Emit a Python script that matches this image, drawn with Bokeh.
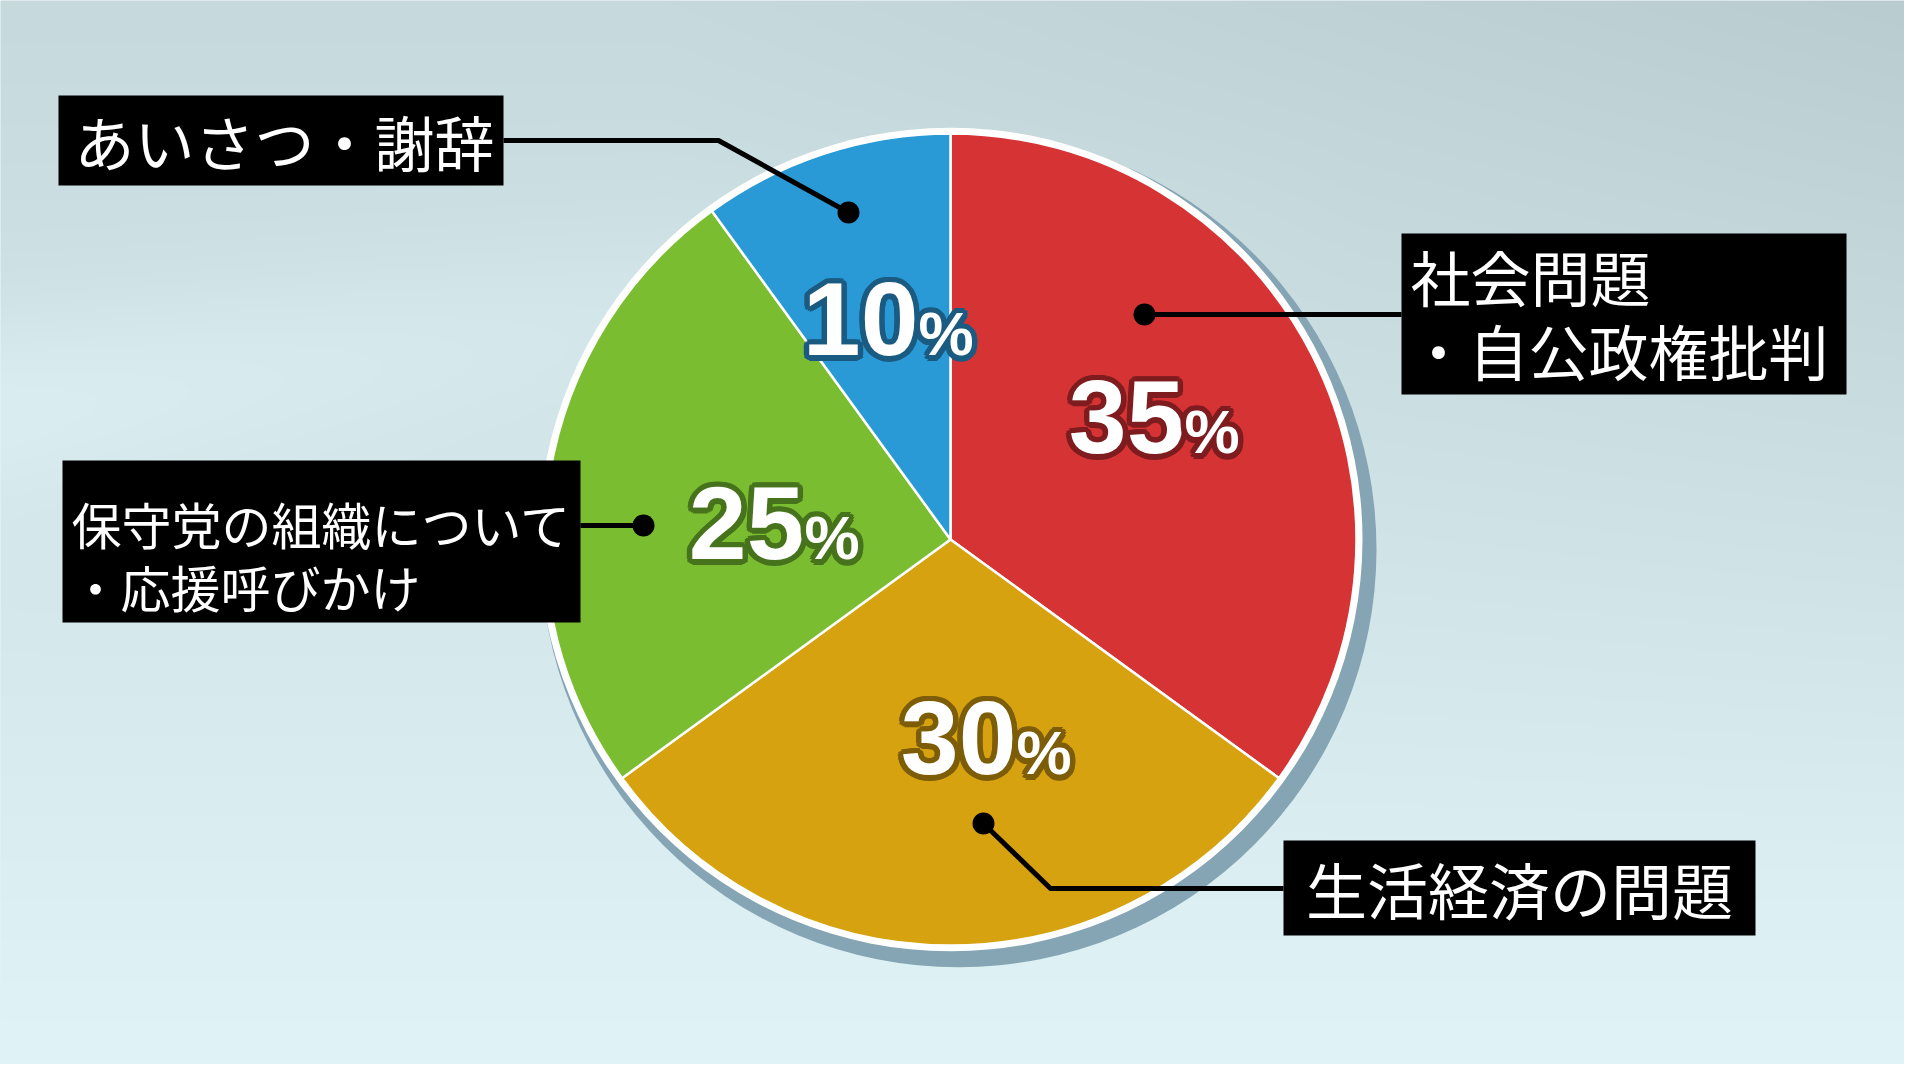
import numpy as np
from bokeh.plotting import figure
from bokeh.models import Range1d
from bokeh.core.properties import value
from bokeh.embed import file_html
from bokeh.resources import INLINE

# ---------------- data ----------------
categories = ["社会問題・自公政権批判", "生活経済の問題", "保守党の組織について・応援呼びかけ", "あいさつ・謝辞"]
label_lines = [["社会問題", "・自公政権批判"], ["生活経済の問題"],
               ["保守党の組織について", "・応援呼びかけ"], ["あいさつ・謝辞"]]
values = [35, 30, 25, 10]
pct_text = [str(v) for v in values]
slice_colors = ["#d63334", "#d6a20f", "#7bbd31", "#2a9ad7"]
outline_colors = ["#7e1c1f", "#7d5d08", "#46731c", "#1b5b82"]

# ---------------- layout (screen px of the 1920x1080 page) ----------------
W, H = 1904, 1064
def Y(sy):
    return 1080 - sy

CX, CY, R = 958, 547, 406
BORDER = 6

# callouts per slice: polyline path (starts at dot), box (l, r, t, b), text line anchors
callouts = [
    dict(path=[(1152, 322), (1409, 322)], box=(1409, 1854, 241, 402),
         text=[(1418, 283), (1416, 357)], size=60, align="left"),
    dict(path=[(991, 831), (1058, 896), (1291, 896)], box=(1291, 1763, 848, 943),
         text=[(1527, 896)], size=61, align="center"),
    dict(path=[(651, 533), (588, 533)], box=(70, 588, 468, 630),
         text=[(79, 530), (78, 593)], size=50, align="left"),
    dict(path=[(856, 220), (726, 148), (511, 148)], box=(66, 511, 103, 193),
         text=[(82, 148)], size=60, align="left"),
]
# percent labels: x where digits end, baseline y
pct_pos = [(1192, 461), (1024, 782), (812, 567), (926, 363)]
DIGIT_SIZE, PCT_SIZE = 104, 62

# ---------------- figure ----------------
p = figure(width=W, height=H, x_range=Range1d(8, 8 + W), y_range=Range1d(8, 8 + H),
           output_backend="svg", toolbar_location=None,
           x_axis_type=None, y_axis_type=None, min_border=0)
p.outline_line_color = None
p.background_fill_color = "#cfe3e6"
p.border_fill_color = "#cfe3e6"
for g in p.grid:
    g.visible = False

# background gradient
gw, gh = 480, 266
xs = np.linspace(0, 1, gw)
ys = np.linspace(0, 1, gh)
GX, GY = np.meshgrid(xs, ys)
top = np.array([198, 217, 221], float)
bot = np.array([224, 243, 246], float)
col = top[None, None, :] * (1 - GY[..., None]) + bot[None, None, :] * GY[..., None]
dark = np.clip((GX - 0.35) / 0.65, 0, 1) * np.clip(1 - GY * 1.2, 0, 1)
col = col - dark[..., None] * np.array([13, 12, 12], float)
streak = np.exp(-((GY - 0.38 + 0.25 * GX) / 0.09) ** 2) * np.clip(1 - GX * 1.4, 0, 1)
col = col + streak[..., None] * np.array([10, 10, 10], float)
col = np.clip(col, 0, 255).astype(np.uint8)
img = np.empty((gh, gw), dtype=np.uint32)
view = img.view(dtype=np.uint8).reshape((gh, gw, 4))
view[..., 0] = col[..., 0]
view[..., 1] = col[..., 1]
view[..., 2] = col[..., 2]
view[..., 3] = 255
p.image_rgba(image=[img[::-1]], x=8, y=8, dw=W, dh=H)

# pie shadow + white rim
p.circle(x=CX + 8, y=Y(CY + 10), radius=R + BORDER + 6, fill_color="#85a5b4", line_color=None)
p.circle(x=CX, y=Y(CY), radius=R + BORDER, fill_color="white", line_color=None)

# wedges
frac = np.array(values, float) / sum(values)
cum = np.concatenate([[0.0], np.cumsum(frac)])
start = np.pi / 2 - 2 * np.pi * cum[:-1]
end = np.pi / 2 - 2 * np.pi * cum[1:]
p.wedge(x=CX, y=Y(CY), radius=R, start_angle=list(start), end_angle=list(end),
        direction="clock", fill_color=slice_colors, line_color="white", line_width=2.5)

# callout lines, dots and boxes
p.multi_line(xs=[[pt[0] for pt in c["path"]] for c in callouts],
             ys=[[Y(pt[1]) for pt in c["path"]] for c in callouts],
             line_color="black", line_width=5, line_join="round")
p.scatter(x=[c["path"][0][0] for c in callouts], y=[Y(c["path"][0][1]) for c in callouts],
          size=22, fill_color="black", line_color=None)
p.quad(left=[c["box"][0] for c in callouts], right=[c["box"][1] for c in callouts],
       top=[Y(c["box"][2]) for c in callouts], bottom=[Y(c["box"][3]) for c in callouts],
       fill_color="black", line_color=None)

for c, lines in zip(callouts, label_lines):
    for (tx, ty), line in zip(c["text"], lines):
        p.text(x=[tx], y=[Y(ty)], text=[line], text_font=value("Noto Sans CJK JP"),
               text_font_size=f'{c["size"]}px', text_color="white",
               text_baseline="middle", text_align=c["align"])

# percent labels with outline ring (baseline aligned via em-box middle)
ring = [(5.5 * np.cos(a), 5.5 * np.sin(a)) for a in np.linspace(0, 2 * np.pi, 16, endpoint=False)]
for i, (px, base) in enumerate(pct_pos):
    for txt, size, align in ((pct_text[i], DIGIT_SIZE, "right"), ("%", PCT_SIZE, "left")):
        cy = base - 0.347 * size
        p.text(x=[px] * len(ring), y=[Y(cy)] * len(ring), text=[txt] * len(ring),
               x_offset=[o[0] for o in ring], y_offset=[o[1] for o in ring],
               text_font=value("Liberation Sans"), text_font_style="bold",
               text_font_size=f"{size}px", text_color=outline_colors[i],
               text_baseline="middle", text_align=align)
        p.text(x=[px], y=[Y(cy)], text=[txt],
               text_font=value("Liberation Sans"), text_font_style="bold",
               text_font_size=f"{size}px", text_color="white",
               text_baseline="middle", text_align=align)

open("out.html", "w").write(file_html(p, INLINE))
